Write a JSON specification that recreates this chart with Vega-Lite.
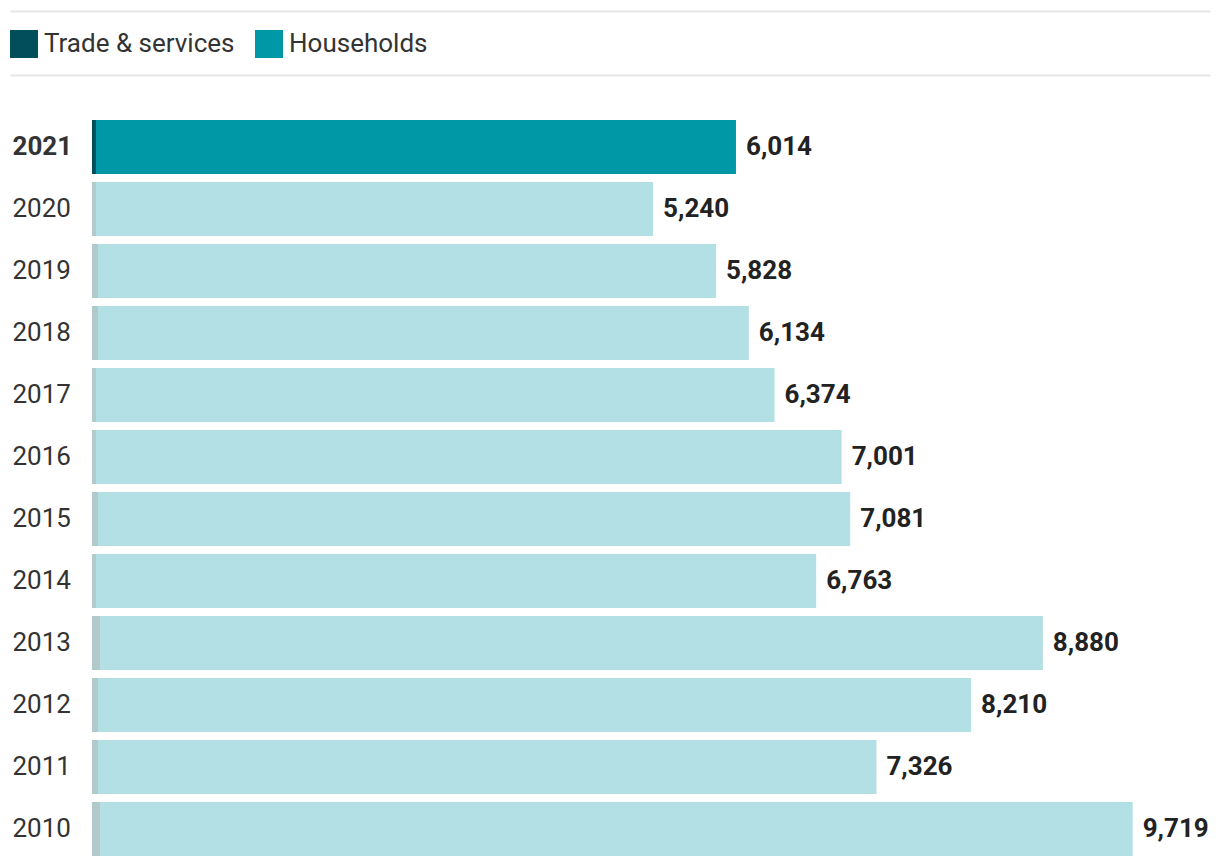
{
  "$schema": "https://vega.github.io/schema/vega-lite/v6.json",
  "width": 1200,
  "height": 744,
  "autosize": {"type": "none"},
  "padding": {"left": 10, "top": 116, "right": 10, "bottom": 6},
  "config": {"view": {"stroke": null}, "font": "Roboto"},
  "data": {"values": [
    {"year": "2021", "category": "Trade & services", "value": 37},
    {"year": "2021", "category": "Households", "value": 5977},
    {"year": "2020", "category": "Trade & services", "value": 37},
    {"year": "2020", "category": "Households", "value": 5203},
    {"year": "2019", "category": "Trade & services", "value": 56},
    {"year": "2019", "category": "Households", "value": 5772},
    {"year": "2018", "category": "Trade & services", "value": 56},
    {"year": "2018", "category": "Households", "value": 6078},
    {"year": "2017", "category": "Trade & services", "value": 37},
    {"year": "2017", "category": "Households", "value": 6337},
    {"year": "2016", "category": "Trade & services", "value": 37},
    {"year": "2016", "category": "Households", "value": 6964},
    {"year": "2015", "category": "Trade & services", "value": 56},
    {"year": "2015", "category": "Households", "value": 7025},
    {"year": "2014", "category": "Trade & services", "value": 37},
    {"year": "2014", "category": "Households", "value": 6726},
    {"year": "2013", "category": "Trade & services", "value": 75},
    {"year": "2013", "category": "Households", "value": 8805},
    {"year": "2012", "category": "Trade & services", "value": 56},
    {"year": "2012", "category": "Households", "value": 8154},
    {"year": "2011", "category": "Trade & services", "value": 56},
    {"year": "2011", "category": "Households", "value": 7270},
    {"year": "2010", "category": "Trade & services", "value": 75},
    {"year": "2010", "category": "Households", "value": 9644}
  ]},
  "resolve": {"scale": {"x": "independent"}, "axis": {"x": "independent"}},
  "layer": [
    {
      "mark": {"type": "bar"},
      "encoding": {
        "y": {
          "field": "year", "type": "nominal", "sort": "descending",
          "scale": {"paddingInner": 0.129, "paddingOuter": 0.0645},
          "axis": {
            "title": null, "ticks": false, "domain": false,
            "labelAlign": "left", "labelPadding": -2, "labelBaseline": "middle",
            "labelFontSize": 26, "labelColor": "#333333", "labelFont": "Roboto",
            "labelFontWeight": {"condition": {"test": "datum.value == '2021'", "value": "bold"}, "value": "normal"}
          }
        },
        "x": {
          "field": "value", "type": "quantitative", "stack": "zero",
          "scale": {"domain": [0, 10441], "range": [82, 1200], "nice": false},
          "axis": null
        },
        "color": {
          "field": "category", "type": "nominal",
          "scale": {"domain": ["Trade & services", "Households"], "range": ["#024e5a", "#0097a7"]},
          "legend": {
            "title": null, "orient": "none", "legendX": 0, "legendY": -86,
            "direction": "horizontal", "symbolType": "square", "symbolSize": 784,
            "symbolOpacity": 1, "symbolStrokeWidth": 0, "labelFontSize": 26,
            "labelColor": "#333333", "labelFont": "Roboto", "labelOffset": 6,
            "labelLimit": 400, "columnPadding": 20
          }
        },
        "order": {"field": "category", "sort": "descending"},
        "opacity": {"condition": {"test": "datum.year == '2021'", "value": 1}, "value": 0.3}
      }
    },
    {
      "transform": [{"aggregate": [{"op": "sum", "field": "value", "as": "total"}], "groupby": ["year"]}],
      "mark": {"type": "text", "align": "left", "baseline": "middle", "dx": 10, "fontSize": 26, "fontWeight": "bold", "color": "#222222", "font": "Roboto"},
      "encoding": {
        "y": {"field": "year", "type": "nominal", "sort": "descending"},
        "x": {
          "field": "total", "type": "quantitative",
          "scale": {"domain": [0, 10441], "range": [82, 1200], "nice": false},
          "axis": null
        },
        "text": {"field": "total", "type": "quantitative", "format": ","}
      }
    },
    {
      "mark": {"type": "point", "opacity": 0},
      "encoding": {
        "x": {
          "field": "value", "type": "quantitative",
          "axis": {"orient": "top", "offset": 41, "domainColor": "#e6e6e6", "domainWidth": 2, "labels": false, "ticks": false, "grid": false, "title": null}
        }
      }
    },
    {
      "mark": {"type": "point", "opacity": 0},
      "encoding": {
        "x": {
          "field": "value", "type": "quantitative",
          "axis": {"orient": "top", "offset": 105, "domainColor": "#e6e6e6", "domainWidth": 2, "labels": false, "ticks": false, "grid": false, "title": null}
        }
      }
    }
  ]
}
